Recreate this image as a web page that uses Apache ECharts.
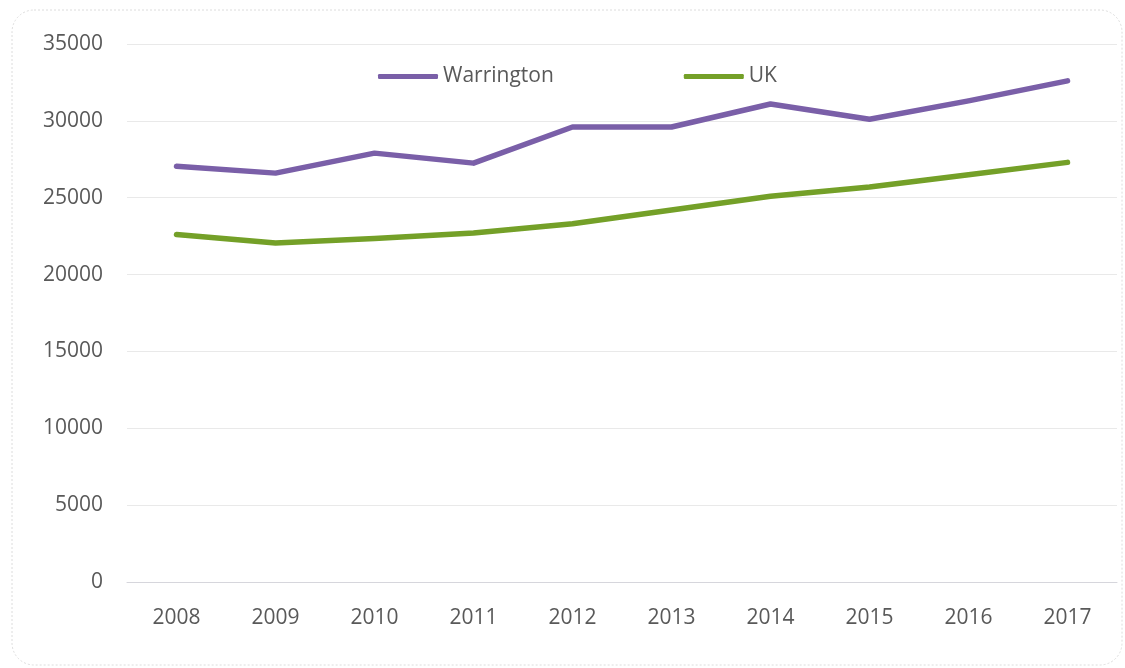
<!DOCTYPE html>
<html>
<head>
<meta charset="utf-8">
<script src="https://cdn.jsdelivr.net/npm/echarts@6/dist/echarts.min.js"></script>
<style>
html, body { margin: 0; padding: 0; background: #fff; }
#main { width: 1125px; height: 668px; }
</style>
</head>
<body>
<div id="main"></div>
<script>
// years on the x axis
var years = ['2008', '2009', '2010', '2011', '2012', '2013', '2014', '2015', '2016', '2017']
// series values
var warrington = [27050, 26600, 27900, 27250, 29600, 29600, 31100, 30100, 31300, 32600]
var uk = [22600, 22050, 22350, 22700, 23300, 24200, 25100, 25700, 26500, 27300]
var yTicks = [0, 5000, 10000, 15000, 20000, 25000, 30000, 35000]

var colors = ['#7a5fa8', '#74a028']
var textColor = '#595959'
var font = 'Open Sans'

var myChart = echarts.init(document.getElementById('main'))
myChart.setOption({
  color: colors,
  animation: false,
  // rounded dashed frame around the chart
  graphic: [{
    type: 'rect',
    shape: { x: 12, y: 10, width: 1110, height: 655, r: 22 },
    style: { fill: 'none', stroke: '#dcdcdc', lineWidth: 1, lineDash: [2, 2] },
    silent: true
  }],
  legend: {
    left: 378,
    top: 66,
    padding: 0,
    itemWidth: 60,
    itemHeight: 5,
    itemGap: 130,
    icon: 'roundRect',
    textStyle: { color: textColor, fontSize: 21, fontFamily: font },
    data: ['Warrington', 'UK']
  },
  grid: {
    left: 127,
    right: 8,
    top: 44,
    bottom: 86
  },
  xAxis: {
    type: 'category',
    boundaryGap: true,
    data: years,
    axisTick: { show: false },
    axisLine: { lineStyle: { color: '#d6d6dc', width: 1 } },
    axisLabel: { color: textColor, fontSize: 21, fontFamily: font, margin: 26 }
  },
  yAxis: {
    type: 'value',
    min: yTicks[0],
    max: yTicks[yTicks.length - 1],
    interval: 5000,
    axisLine: { show: false },
    axisTick: { show: false },
    splitLine: { lineStyle: { color: '#e9e9e9', width: 1 } },
    axisLabel: {
      color: textColor, fontSize: 21, fontFamily: font, margin: 24,
      formatter: function (v) { return String(v) }
    }
  },
  series: [
    {
      name: 'Warrington',
      type: 'line',
      data: warrington,
      symbol: 'none',
      lineStyle: { width: 5.5, cap: 'round', join: 'round' }
    },
    {
      name: 'UK',
      type: 'line',
      data: uk,
      symbol: 'none',
      lineStyle: { width: 5.5, cap: 'round', join: 'round' }
    }
  ]
})
</script>
</body>
</html>
